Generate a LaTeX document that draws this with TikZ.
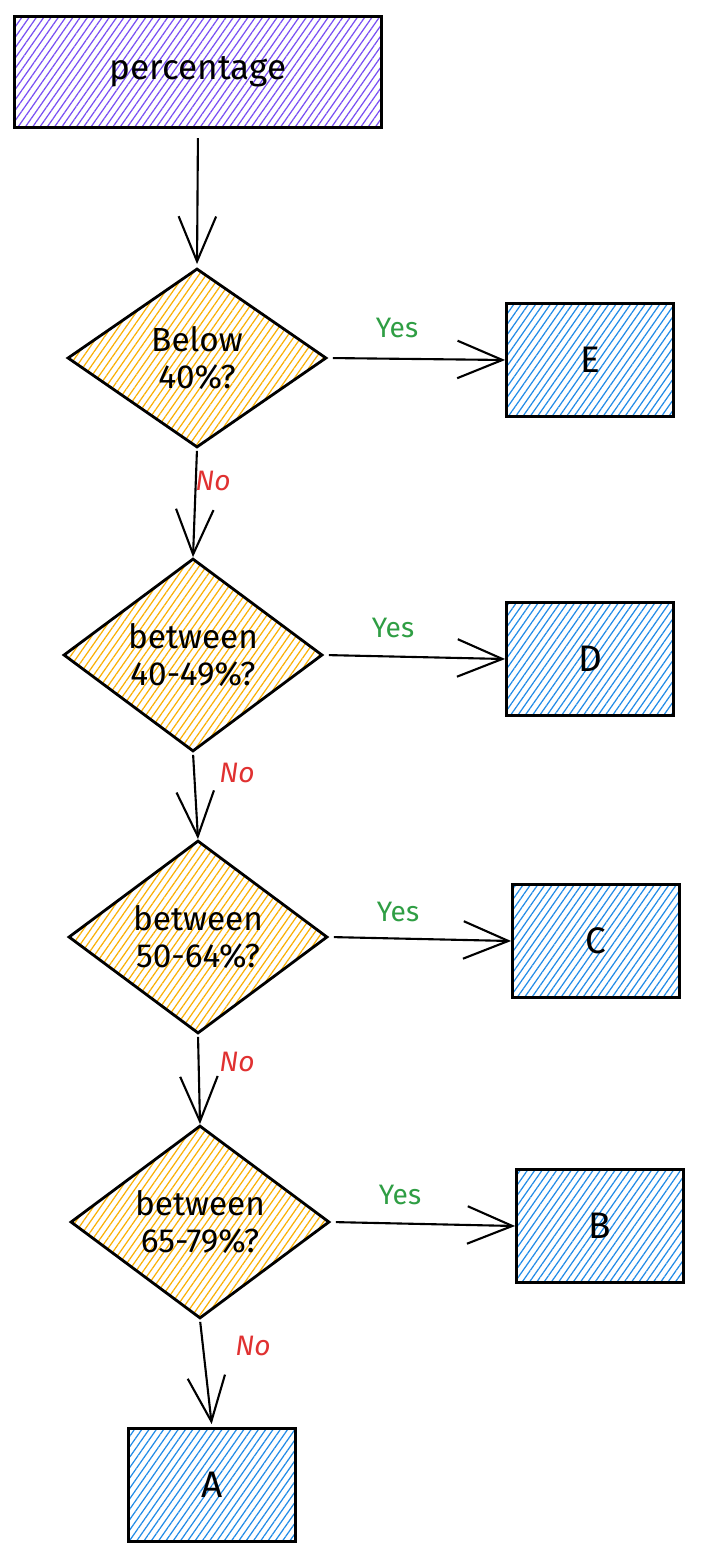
\documentclass[tikz,border=0pt]{standalone}
\usepackage{fontspec}
\setmainfont{Fira Sans}
\usetikzlibrary{arrows.meta,positioning,shapes.geometric,patterns.meta}
\definecolor{violet}{HTML}{7950F2}
\definecolor{amber}{HTML}{FAB005}
\definecolor{sky}{HTML}{228BE6}
\definecolor{yesgreen}{HTML}{2F9E44}
\definecolor{nored}{HTML}{E03131}

\begin{document}
\begin{tikzpicture}[
  hatch/.style={pattern={Lines[angle=55,distance=3.4pt,line width=0.7pt]},pattern color=#1},
  startbox/.style={draw,line width=1.6pt,hatch=violet,minimum width=7.34cm,minimum height=2.22cm,font=\fontsize{20}{24}\selectfont},
  gradebox/.style={draw,line width=1.6pt,hatch=sky,minimum width=3.34cm,minimum height=2.26cm,font=\fontsize{21}{25}\selectfont},
  test/.style={draw,diamond,line width=1.6pt,hatch=amber,inner sep=0pt,minimum width=5.18cm,minimum height=3.58cm,align=center,font=\fontsize{19}{21}\selectfont},
  flow/.style={draw,line width=1.2pt,-{Straight Barb[length=9mm,width=7.5mm,line width=1.2pt]}},
  yeslbl/.style={text=yesgreen,font=\fontsize{16}{19}\selectfont},
  nolbl/.style={text=nored,font=\itshape\fontsize{16}{19}\selectfont},
]
  \useasboundingbox (0,0) rectangle (14,-31.18);

  % input and decisions
  \node[startbox] (pct) at (3.96,-1.44) {percentage};
  \node[test] (below40) at (3.94,-7.16) {Below\\40\%?};
  \node[test] (range40) at (3.86,-13.1) {between\\40-49\%?};
  \node[test] (range50) at (3.96,-18.74) {between\\50-64\%?};
  \node[test] (range65) at (4.0,-24.44) {between\\65-79\%?};

  % grades
  \node[gradebox] (gradeE) at (11.8,-7.2) {E};
  \node[gradebox] (gradeD) at (11.8,-13.18) {D};
  \node[gradebox] (gradeC) at (11.92,-18.82) {C};
  \node[gradebox] (gradeB) at (12.0,-24.52) {B};
  \node[gradebox] (gradeA) at (4.24,-29.7) {A};

  % down the chain
  \draw[flow,shorten <=0.2cm,shorten >=0.06cm] (pct.south) -- (below40.north);
  \draw[flow,shorten <=0.04cm] (below40.south) -- (range40.north);
  \draw[flow,shorten <=0.04cm] (range40.south) -- (range50.north);
  \draw[flow,shorten <=0.04cm] (range50.south) -- (range65.north);
  \draw[flow,shorten <=0.04cm,shorten >=0.06cm] (range65.south) -- (gradeA.north);

  % yes branches
  \draw[flow,shorten <=0.1cm] (below40.east) -- (gradeE.west);
  \draw[flow,shorten <=0.1cm] (range40.east) -- (gradeD.west);
  \draw[flow,shorten <=0.1cm] (range50.east) -- (gradeC.west);
  \draw[flow,shorten <=0.1cm] (range65.east) -- (gradeB.west);

  \node[yeslbl] (yes1) at (7.94,-6.56) {Yes};
  \node[yeslbl] (yes2) at (7.86,-12.56) {Yes};
  \node[yeslbl] (yes3) at (7.96,-18.24) {Yes};
  \node[yeslbl] (yes4) at (8.0,-23.9) {Yes};

  \node[nolbl] (no1) at (4.26,-9.62) {No};
  \node[nolbl] (no2) at (4.74,-15.46) {No};
  \node[nolbl] (no3) at (4.74,-21.24) {No};
  \node[nolbl] (no4) at (5.06,-26.92) {No};
\end{tikzpicture}
\end{document}
